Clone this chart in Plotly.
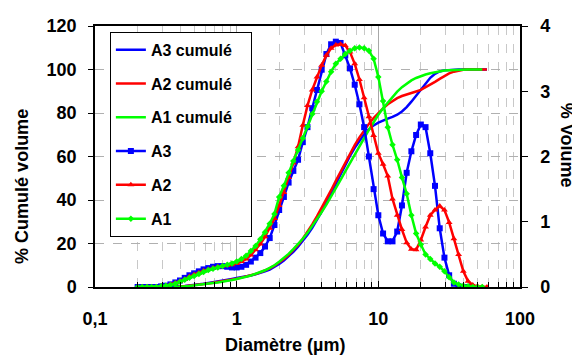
import plotly.graph_objects as go

# Particle diameter grid (µm)
diametre = [0.200, 0.215, 0.233, 0.251, 0.271, 0.293, 0.316, 0.341, 0.369, 0.398, 0.430, 0.464, 0.501, 0.541, 0.584,
            0.631, 0.681, 0.736, 0.794, 0.858, 0.926,
            1.000, 1.080, 1.166, 1.259, 1.359, 1.468, 1.585, 1.711, 1.848, 1.995,
            2.154, 2.326, 2.512, 2.712, 2.929, 3.162, 3.415, 3.687, 3.981, 4.299,
            4.642, 5.012, 5.412, 5.843, 6.310, 6.813, 7.356, 7.943, 8.577, 9.261,
            10.00, 10.80, 11.66, 12.59, 13.59, 14.68, 15.85, 17.11, 18.48, 19.95,
            21.54, 23.26, 25.12, 27.12, 29.29, 31.62, 34.15, 36.87, 39.81, 42.99,
            46.42, 50.12, 54.12, 58.43]

# % volume (frequency)
a3_vol = [0, 0, 0, 0, 0, 0.01, 0.02, 0.04, 0.07, 0.10, 0.14, 0.18, 0.21, 0.24, 0.27, 0.29, 0.31, 0.32, 0.32, 0.31, 0.30,
          0.30, 0.31, 0.34, 0.39, 0.45, 0.52, 0.62, 0.75, 0.95, 1.18,
          1.38, 1.60, 1.78, 1.95, 2.22, 2.45, 2.74, 3.02, 3.33, 3.57,
          3.72, 3.76, 3.74, 3.55, 3.35, 3.10, 2.80, 2.45, 2.00, 1.50,
          1.10, 0.82, 0.70, 0.70, 0.85, 1.25, 1.75, 2.08, 2.33, 2.49,
          2.45, 2.05, 1.55, 0.90, 0.45, 0.18, 0.05, 0.01, 0, 0,
          None, None, None, None]
a2_vol = [0, 0, 0, 0, 0, 0.01, 0.02, 0.04, 0.06, 0.09, 0.12, 0.16, 0.19, 0.22, 0.25, 0.27, 0.29, 0.31, 0.32, 0.33, 0.34,
          0.36, 0.39, 0.43, 0.49, 0.57, 0.66, 0.77, 0.90, 1.05, 1.25,
          1.45, 1.68, 1.90, 2.15, 2.48, 2.78, 3.02, 3.22, 3.40, 3.55,
          3.66, 3.71, 3.72, 3.70, 3.60, 3.42, 3.18, 2.90, 2.61, 2.32,
          2.05, 1.88, 1.70, 1.35, 1.10, 0.88, 0.68, 0.58, 0.57, 0.72,
          0.92, 1.10, 1.18, 1.24, 1.18, 0.99, 0.74, 0.50, 0.24, 0.09,
          0.03, 0.01, 0, 0]
a1_vol = [0, 0, 0, 0, 0, 0.01, 0.02, 0.03, 0.05, 0.08, 0.11, 0.14, 0.17, 0.20, 0.23, 0.26, 0.28, 0.30, 0.32, 0.34, 0.36,
          0.39, 0.43, 0.48, 0.55, 0.63, 0.73, 0.84, 0.97, 1.12, 1.38,
          1.55, 1.75, 1.93, 2.10, 2.28, 2.46, 2.65, 2.84, 3.00, 3.15,
          3.30, 3.42, 3.50, 3.57, 3.62, 3.66, 3.67, 3.66, 3.62, 3.50,
          3.22, 2.85, 2.45, 2.18, 1.95, 1.68, 1.43, 1.10, 0.82, 0.65,
          0.50, 0.43, 0.36, 0.31, 0.24, 0.15, 0.07, 0.04, 0.02, 0.01,
          0, 0, 0, None]

# % cumulated volume
a3_cum = [0, 0, 0, 0, 0, 0, 0, 0.1, 0.2, 0.3, 0.5, 0.7, 0.9, 1.2, 1.5, 1.9, 2.2, 2.6, 3.0, 3.3, 3.7,
          4.1, 4.4, 4.8, 5.3, 5.8, 6.4, 7.2, 8.0, 9.2, 10.6,
          12.2, 14.1, 16.2, 18.5, 21.1, 24.0, 27.2, 30.8, 34.7, 38.9,
          43.3, 47.7, 52.2, 56.4, 60.3, 64.0, 67.3, 70.2, 72.5, 74.3,
          75.6, 76.6, 77.4, 78.2, 79.2, 80.7, 82.7, 85.2, 88.0, 90.9,
          93.8, 96.2, 98.0, 99.1, 99.6, 99.8, 99.9, 100, 100, 100,
          100, 100, 100, 100]
a2_cum = [0, 0, 0, 0, 0, 0, 0, 0.1, 0.2, 0.3, 0.4, 0.6, 0.8, 1.0, 1.3, 1.6, 2.0, 2.3, 2.7, 3.1, 3.4,
          3.8, 4.3, 4.8, 5.3, 6.0, 6.7, 7.6, 8.6, 9.8, 11.2,
          12.9, 14.8, 17.0, 19.4, 22.2, 25.4, 28.8, 32.5, 36.3, 40.4,
          44.5, 48.8, 53.0, 57.2, 61.3, 65.2, 68.8, 72.1, 75.0, 77.7,
          80.0, 82.1, 84.0, 85.5, 86.8, 87.8, 88.6, 89.2, 89.9, 90.6,
          91.7, 92.9, 94.3, 95.7, 97.0, 98.2, 99.0, 99.6, 99.9, 100,
          100, 100, 100, 100]
a1_cum = [0, 0, 0, 0, 0, 0, 0, 0.1, 0.1, 0.2, 0.3, 0.5, 0.7, 0.9, 1.2, 1.4, 1.8, 2.1, 2.4, 2.8, 3.2,
          3.7, 4.1, 4.7, 5.3, 6.0, 6.8, 7.7, 8.8, 10.0, 11.6,
          13.3, 15.2, 17.4, 19.7, 22.2, 24.9, 27.9, 31.0, 34.4, 37.9,
          41.5, 45.3, 49.2, 53.2, 57.2, 61.2, 65.0, 68.5, 72.2, 75.8,
          79.2, 82.2, 84.9, 87.4, 89.8, 91.9, 93.6, 95.0, 96.1, 97.0,
          97.7, 98.3, 98.8, 99.2, 99.5, 99.7, 99.85, 99.93, 100, 100,
          100, 100, 100, None]

x_tickvals = [0.1, 1, 10, 100]
x_ticktext = ["0,1", "1", "10", "100"]
x_minor = [0.2, 0.3, 0.4, 0.5, 0.6, 0.7, 0.8, 0.9, 2, 3, 4, 5, 6, 7, 8, 9,
           20, 30, 40, 50, 60, 70, 80, 90]

BLUE = "#0000FF"
RED = "#FF0000"
GREEN = "#00FF00"
FONT = "Liberation Sans, Arial, sans-serif"
PAD = "\u00a0\u00a0\u00a0"

fig = go.Figure()

cum_series = [("A3 cumulé", a3_cum, BLUE), ("A2 cumulé", a2_cum, RED), ("A1 cumulé", a1_cum, GREEN)]
for name, vals, col in cum_series:
    fig.add_trace(go.Scatter(x=diametre, y=vals, name=name + PAD, mode="lines",
                             line=dict(color=col, width=2.5), legendgroup=name,
                             yaxis="y"))

vol_series = [("A3", a3_vol, BLUE, "square", 6), ("A2", a2_vol, RED, "triangle-up", 6),
              ("A1", a1_vol, GREEN, "diamond", 5)]
for name, vals, col, sym, sz in vol_series:
    fig.add_trace(go.Scatter(x=diametre, y=vals, name=name, mode="lines+markers",
                             line=dict(color=col, width=2.5),
                             marker=dict(symbol=sym, size=sz, color=col, line=dict(width=0)),
                             legendgroup=name, yaxis="y2"))

tickfont = dict(family=FONT, size=18, color="black", weight="bold")
titlefont = dict(family=FONT, size=18, color="black", weight="bold")

fig.update_layout(
    width=572, height=351,
    margin=dict(l=87, r=60, t=8, b=72),
    plot_bgcolor="white", paper_bgcolor="white",
    font=dict(family=FONT, color="black"),
    xaxis=dict(type="log", range=[-1, 2], tickmode="array", tickvals=x_tickvals, ticktext=x_ticktext,
               ticks="inside", ticklen=6, tickwidth=1, tickcolor="black",
               showline=True, linecolor="black", linewidth=2, mirror=True,
               showgrid=True, gridcolor="#a8a8a8", gridwidth=1,
               minor=dict(tickmode="array", tickvals=x_minor, ticks="inside", ticklen=5, tickcolor="black",
                          showgrid=True, gridcolor="#c8c8c8", griddash="dash", gridwidth=1),
               tickfont=tickfont, ticklabelstandoff=14, zeroline=False),
    yaxis=dict(range=[0, 120], tickmode="array", tickvals=[0, 20, 40, 60, 80, 100, 120],
               ticks="outside", ticklen=5, tickcolor="black",
               showline=True, linecolor="black", linewidth=1.5,
               showgrid=True, gridcolor="#b0b0b0", griddash="dash", gridwidth=1,
               tickfont=tickfont, ticklabelstandoff=8, zeroline=False),
    yaxis2=dict(range=[0, 4], tickmode="array", tickvals=[0, 1, 2, 3, 4], overlaying="y", side="right",
                ticks="outside", ticklen=6, tickcolor="black",
                showline=True, linecolor="black", linewidth=1.5, showgrid=False,
                tickfont=tickfont, ticklabelstandoff=9, zeroline=False),
    legend=dict(x=0.035, y=0.978, xanchor="left", yanchor="top",
                bgcolor="white", bordercolor="black", borderwidth=1,
                font=dict(family=FONT, size=16, color="black", weight="bold"),
                tracegroupgap=10, itemwidth=30),
    annotations=[
        dict(text="Diamètre (µm)", xref="paper", yref="paper", x=0.447, y=-0.221,
             xanchor="center", yanchor="middle", showarrow=False, font=titlefont),
        dict(text="% Cumulé volume", xref="paper", yref="paper", x=-0.172, y=0.387,
             xanchor="center", yanchor="middle", showarrow=False, textangle=-90, font=titlefont),
        dict(text="% Volume", xref="paper", yref="paper", x=1.111, y=0.544,
             xanchor="center", yanchor="middle", showarrow=False, textangle=90, font=titlefont),
    ],
)

fig.write_html("out.html")
